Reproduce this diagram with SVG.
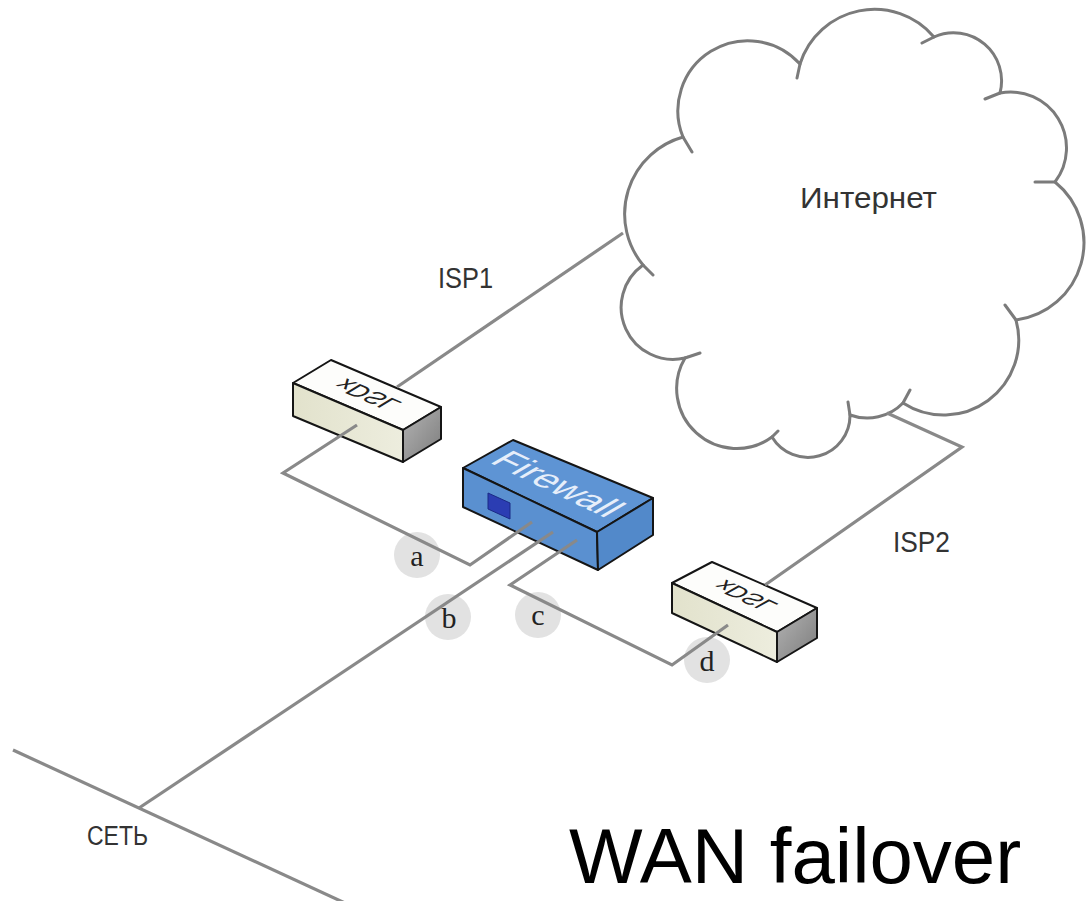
<svg xmlns="http://www.w3.org/2000/svg" width="1086" height="901" viewBox="0 0 1086 901">
  <defs>
    <style>
      .wire { fill: none; stroke: #898989; stroke-width: 3.2; stroke-linejoin: miter; }
      .cloud { fill: #ffffff; stroke: #7b7b7b; stroke-width: 3; }
      .tails { fill: none; stroke: #7b7b7b; stroke-width: 3; stroke-linecap: round; }
      .edge { stroke: #151515; stroke-width: 2; stroke-linejoin: round; }
      .modem-top { fill: #fdfdfb; }
      .modem-front { fill: url(#modemFront); }
      .modem-side { fill: url(#modemSide); }
      .fw-top { fill: #5e94d4; }
      .fw-front { fill: #5a90d0; }
      .fw-side { fill: #5289ca; }
      .lbl { font-family: "Liberation Sans", "DejaVu Sans", sans-serif; fill: #333333; }
      .dev { font-family: "Liberation Sans", "DejaVu Sans", sans-serif; text-anchor: middle; dominant-baseline: central; }
      .tag circle { fill: #e2e2e2; }
      .tag text { font-family: "Liberation Serif", "DejaVu Serif", serif; font-size: 30px; fill: #222222; text-anchor: middle; }
    </style>
    <linearGradient id="modemFront" x1="0" y1="0" x2="1" y2="0">
      <stop offset="0" stop-color="#e2e2cc"/>
      <stop offset="1" stop-color="#ededde"/>
    </linearGradient>
    <linearGradient id="modemSide" x1="0" y1="0" x2="1" y2="1">
      <stop offset="0" stop-color="#b4b4b4"/>
      <stop offset="1" stop-color="#7c7c7c"/>
    </linearGradient>
  </defs>

  <rect width="1086" height="901" fill="#ffffff"/>

  <!-- Internet cloud -->
  <g id="internet">
    <path class="cloud" d="M683 137 A70 70 0 0 1 800 64 A78 78 0 0 1 934 37 A48 48 0 0 1 1000 93 A56 56 0 0 1 1055 182 A78 78 0 0 1 1016 320 A75 75 0 0 1 903 403 A50 50 0 0 1 850 415 A42 42 0 0 1 772 437 A60 60 0 0 1 685 358 A52 52 0 0 1 643 265 A80 80 0 0 1 683 137 Z"/>
    <path class="tails" d="M683 137 L692 152 M800 64 L797 78 M934 37 L922 43 M1000 93 L985 99 M1055 182 L1035 182 M1016 320 L1005 305 M903 403 L910 390 M850 415 L848 402 M772 437 L778 431 M685 358 L700 353 M643 265 L653 275"/>
    <text class="lbl" x="800" y="208" font-size="30" textLength="137" lengthAdjust="spacingAndGlyphs">Интернет</text>
  </g>

  <!-- ISP1 modem -->
  <g id="xdsl1">
    <polygon class="modem-top edge" points="293,383 403,430 441,407 331,360"/>
    <polygon class="modem-front edge" points="293,383 403,430 403,462 293,416"/>
    <polygon class="modem-side edge" points="403,430 441,407 441,439 403,462"/>
    <text class="dev" font-size="25" fill="#222" transform="matrix(0.920 0.393 0.856 -0.518 367 395)">xDSL</text>
  </g>

  <!-- Firewall -->
  <g id="firewall">
    <polygon class="fw-top edge" points="463,468 597,532 653,498 513,440"/>
    <polygon class="fw-front edge" points="463,468 597,532 598,570 463,507"/>
    <polygon class="fw-side edge" points="597,532 653,498 653,535 598,570"/>
    <polygon points="488,493 510,503 510,519 488,509" fill="#2b3db3" stroke="#1b2a85" stroke-width="1"/>
    <text class="dev" font-size="37" fill="#e6eefa" textLength="130" lengthAdjust="spacingAndGlyphs" transform="matrix(0.902 0.431 -0.863 0.505 558 484)">Firewall</text>
  </g>

  <!-- ISP2 modem -->
  <g id="xdsl2">
    <polygon class="modem-top edge" points="672,583 777,632 817,608 712,562"/>
    <polygon class="modem-front edge" points="672,583 777,632 777,662 672,613"/>
    <polygon class="modem-side edge" points="777,632 817,608 817,638 777,662"/>
    <text class="dev" font-size="24" fill="#222" transform="matrix(0.906 0.423 0.871 -0.490 745 596)">xDSL</text>
  </g>

  <!-- Port markers -->
  <g id="ports" class="tag">
    <circle cx="417" cy="555" r="23"/>
    <circle cx="448" cy="617" r="23"/>
    <circle cx="538" cy="615" r="23"/>
    <circle cx="707" cy="660" r="23"/>
  </g>

  <!-- Links -->
  <g id="connectors">
    <polyline class="wire" points="623,233 397,387"/>
    <polyline class="wire" points="887,413 962,447 765,585"/>
    <polyline class="wire" points="357,425 283,473 470,565 532,522"/>
    <polyline class="wire" points="553,532 139,808"/>
    <polyline class="wire" points="577,540 510,585 672,665 728,625"/>
    <polyline class="wire" points="13,750 345,903"/>
  </g>

  <!-- Port letters -->
  <g id="port-letters" class="tag">
    <text x="417" y="566">a</text>
    <text x="449" y="628">b</text>
    <text x="538" y="625">c</text>
    <text x="707" y="671">d</text>
  </g>

  <!-- Labels -->
  <g id="labels">
    <text class="lbl" x="438" y="288" font-size="30" textLength="55" lengthAdjust="spacingAndGlyphs">ISP1</text>
    <text class="lbl" x="893" y="552" font-size="30" textLength="57" lengthAdjust="spacingAndGlyphs">ISP2</text>
    <text class="lbl" x="87" y="845" font-size="27" textLength="61" lengthAdjust="spacingAndGlyphs">СЕТЬ</text>
    <text x="569" y="883" font-family="Liberation Sans, Arial, sans-serif" font-size="78" fill="#000">WAN failover</text>
  </g>
</svg>
